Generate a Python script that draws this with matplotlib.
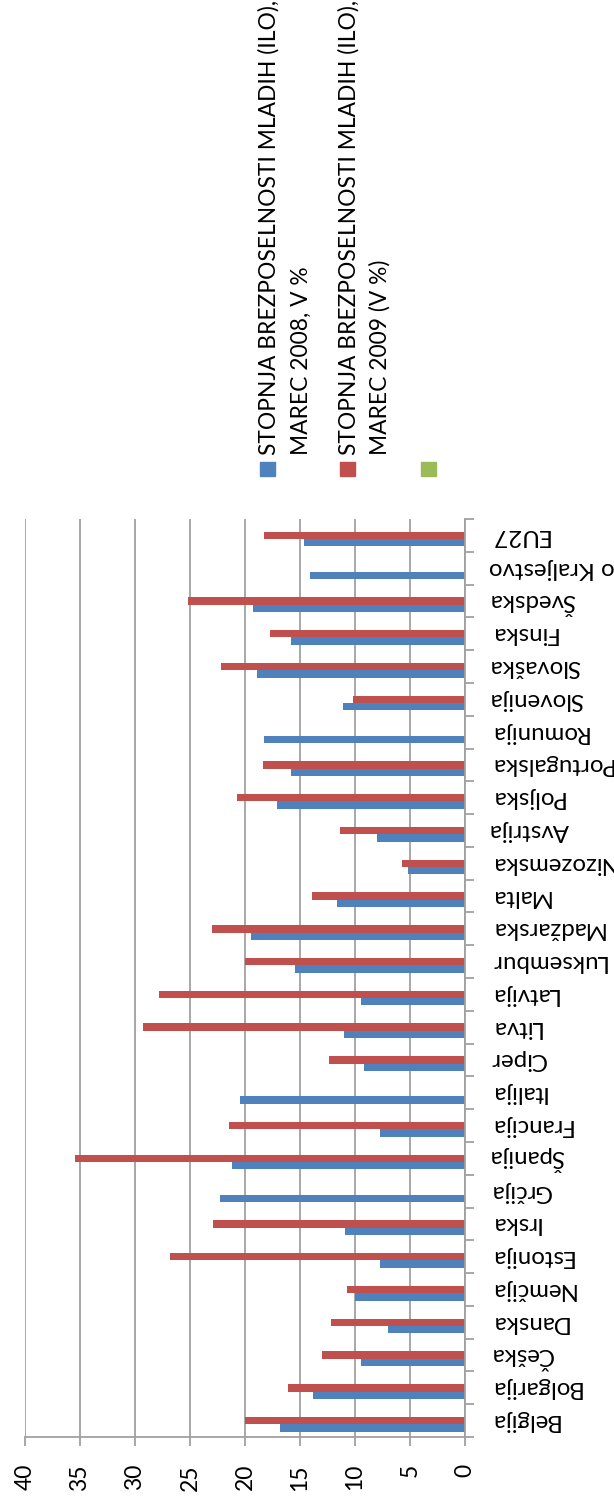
import matplotlib
matplotlib.use("Agg")
import matplotlib.pyplot as plt
from matplotlib.patches import Rectangle
import numpy as np

plt.rcParams['font.family'] = ['Lato', 'DejaVu Sans']

countries = ["Belgija", "Bolgarija", "Češka", "Danska", "Nemčija", "Estonija",
             "Irska", "Grčija", "Španija", "Francija", "Italija", "Ciper",
             "Litva", "Latvija", "Luksembur", "Madžarska", "Malta",
             "Nizozemska", "Avstrija", "Poljska", "Portugalska", "Romunija",
             "Slovenija", "Slovaška", "Finska", "Švedska",
             "Združeno Kraljestvo", "EU27"]
rate_2008 = [16.8, 13.8, 9.5, 7.0, 10.0, 7.7, 10.9, 22.3, 21.2, 7.7, 20.5, 9.2,
             11.0, 9.5, 15.5, 19.5, 11.6, 5.2, 8.0, 17.1, 15.8, 18.3, 11.1,
             18.9, 15.8, 19.3, 14.1, 14.6]
rate_2009 = [20.0, 16.1, 13.0, 12.2, 10.7, 26.8, 22.9, np.nan, 35.5, 21.5,
             np.nan, 12.4, 29.3, 27.8, 20.0, 23.0, 13.9, 5.7, 11.4, 20.7, 18.4,
             np.nan, 10.2, 22.2, 17.7, 25.2, np.nan, 18.3]
series_names = ["STOPNJA BREZPOSELNOSTI MLADIH (ILO),", "MAREC 2008, V %",
                "STOPNJA BREZPOSELNOSTI MLADIH (ILO),", "MAREC 2009 (V %)"]
xticks = [0, 5, 10, 15, 20, 25, 30, 35, 40]

blue = "#4F81BD"
red = "#C0504D"
green = "#9BBB59"
grey = "#a0a0a0"
W, H = 614, 1501
fs = 16.4

fig = plt.figure(figsize=(W / 100, H / 100), dpi=100)
ax = fig.add_axes([25 / W, 1 - 1437 / H, 440 / W, (1437 - 519) / H])

y = np.arange(len(countries))
bw = 0.225
ax.barh(y - bw, rate_2008, height=bw, color=blue)
ax.barh(y, rate_2009, height=bw, color=red)

ax.set_xlim(40, 0)
ax.set_ylim(-0.5, len(countries) - 0.5)
ax.set_xticks(xticks)
ax.set_xticklabels([str(t) for t in xticks], rotation=90, fontsize=16.5)
ax.grid(axis='x', color=grey, linewidth=1.3)
ax.set_axisbelow(True)

ax.yaxis.tick_right()
ax.set_yticks(np.arange(len(countries) + 1) - 0.5, minor=False)
ax.set_yticklabels([])
ax.set_yticks(y, minor=True)
ax.set_yticklabels(countries, minor=True, rotation=180, fontsize=17.3,
                   ha='left', va='center')
ax.tick_params(axis='y', which='minor', length=0, pad=17.5)
ax.tick_params(axis='y', which='major', length=6.5, color=grey, width=1.3)
ax.tick_params(axis='x', length=6.5, color=grey, width=1.3, pad=13)

for s in ['left', 'top']:
    ax.spines[s].set_visible(False)
for s in ['right', 'bottom']:
    ax.spines[s].set_color(grey)
    ax.spines[s].set_linewidth(1.3)

# legend, rotated like the chart
for sx, col in [(260, blue), (340, red), (421, green)]:
    fig.add_artist(Rectangle((sx / W, 1 - 476 / H), 15 / W, 14 / H,
                             color=col, transform=fig.transFigure))
for tx, txt in zip([269, 301, 349, 380], series_names):
    fig.text(tx / W, 1 - 455 / H, txt, rotation=90, fontsize=fs,
             ha='center', va='bottom')

fig.savefig("out.png", dpi=100)
